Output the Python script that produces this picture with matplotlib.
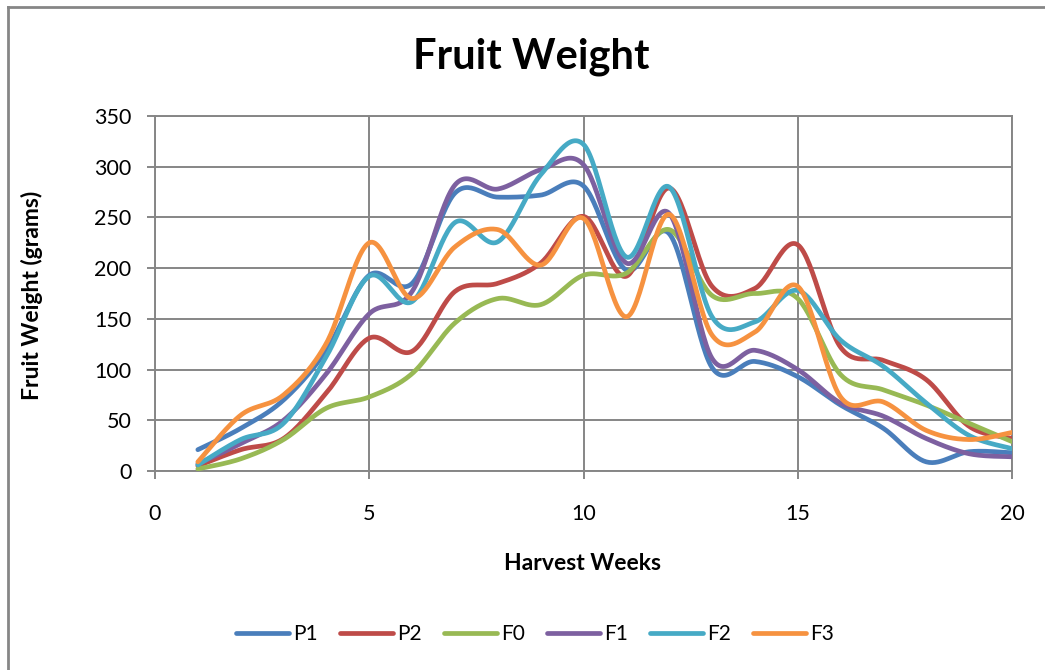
#! /usr/bin/env python3
# -*- coding: utf-8 -*-
import numpy as np
import matplotlib
matplotlib.use('Agg')
import matplotlib.pyplot as plt
from matplotlib.lines import Line2D

plt.rcParams['font.family'] = ['Lato', 'DejaVu Sans']

# fruit weight (grams) per harvest week
weeks = np.arange(1, 21)
P1 = [21, 42, 70, 119, 193, 185, 274, 270, 272, 281,
      198, 234, 102, 108, 93, 65, 42, 9, 19, 18]
P2 = [5, 21, 32, 77, 131, 118, 177, 185, 205, 251,
      192, 279, 182, 180, 223, 122, 109, 90, 44, 32]
F0 = [2, 12, 31, 62, 73, 96, 146, 170, 164, 193,
      195, 238, 173, 175, 170, 95, 80, 65, 47, 29]
F1 = [7, 27, 50, 96, 155, 177, 282, 278, 297, 302,
      205, 254, 111, 119, 100, 67, 54, 32, 17, 14]
F2 = [6, 31, 47, 113, 192, 167, 245, 226, 292, 322,
      211, 280, 152, 147, 178, 129, 103, 67, 35, 22]
F3 = [9, 55, 75, 126, 225, 170, 221, 238, 203, 249,
      152, 253, 134, 137, 182, 73, 68, 40, 31, 38]

series = {'P1': (P1, '#4A7EBB'), 'P2': (P2, '#BE4B48'),
          'F0': (F0, '#98B954'), 'F1': (F1, '#7D60A0'),
          'F2': (F2, '#46AAC5'), 'F3': (F3, '#F69240')}


def smooth(x, y, n=30):
    """Catmull-Rom style smoothing through every point."""
    x = np.asarray(x, float)
    y = np.asarray(y, float)
    px = np.concatenate([[x[0]], x, [x[-1]]])
    py = np.concatenate([[y[0]], y, [y[-1]]])
    t = np.linspace(0, 1, n)[:, None]
    xs, ys = [], []
    for i in range(1, len(px) - 2):
        p0 = np.array([px[i], py[i]])
        p3 = np.array([px[i + 1], py[i + 1]])
        c1 = p0 + (p3 - np.array([px[i - 1], py[i - 1]])) / 6
        c2 = p3 - (np.array([px[i + 2], py[i + 2]]) - p0) / 6
        b = ((1 - t) ** 3 * p0 + 3 * (1 - t) ** 2 * t * c1
             + 3 * (1 - t) * t ** 2 * c2 + t ** 3 * p3)
        xs.append(b[:, 0])
        ys.append(b[:, 1])
    return np.concatenate(xs), np.concatenate(ys)


W, H = 1045, 670
fig = plt.figure(figsize=(W / 100, H / 100), dpi=100)
ax = fig.add_axes([155 / W, 1 - 471 / H, 857 / W, 355 / H])

lw = 3.4
handles = []
for name, (vals, color) in series.items():
    sx, sy = smooth(weeks, vals)
    ax.plot(sx, sy, color=color, lw=lw, solid_capstyle='round', zorder=3)
    handles.append(Line2D([], [], color=color, lw=lw,
                          solid_capstyle='round', label=name))

grid_c = '#868686'
ax.set_xlim(0, 20)
ax.set_ylim(0, 350)
ax.set_xticks(range(0, 21, 5))
ax.set_yticks(range(0, 351, 50))
ax.grid(True, color=grid_c, lw=1.4)
ax.set_axisbelow(True)
for s in ax.spines.values():
    s.set_color(grid_c)
    s.set_linewidth(1.4)
ax.tick_params(axis='both', colors=grid_c, length=6, width=1.4,
               labelcolor='black', labelsize=15.5)
ax.tick_params(axis='x', pad=18)
ax.tick_params(axis='y', pad=11)

fig.text(583 / W, 1 - 563 / H, 'Harvest Weeks', ha='center', va='center',
         fontsize=16.5, fontweight='bold')
fig.text(32 / W, 1 - 295 / H, 'Fruit Weight (grams)', ha='center',
         va='center', rotation=90, fontsize=16.5, fontweight='bold')
fig.text(531 / W, 1 - 57 / H, 'Fruit Weight', ha='center', va='center',
         fontsize=30, fontweight='bold')

fig.legend(handles=handles, loc='center', ncol=6,
           bbox_to_anchor=(535 / W, 1 - 634 / H), frameon=False,
           fontsize=15, handlelength=2.55, handletextpad=0.2,
           columnspacing=1.05)

# chart area border
fig.add_artist(Line2D([8 / W, 8 / W], [0, 1 - 7 / H],
                      transform=fig.transFigure, color=grid_c, lw=2))
fig.add_artist(Line2D([8 / W, 1], [1 - 7 / H, 1 - 7 / H],
                      transform=fig.transFigure, color=grid_c, lw=2))

fig.savefig('out.png', dpi=100)
